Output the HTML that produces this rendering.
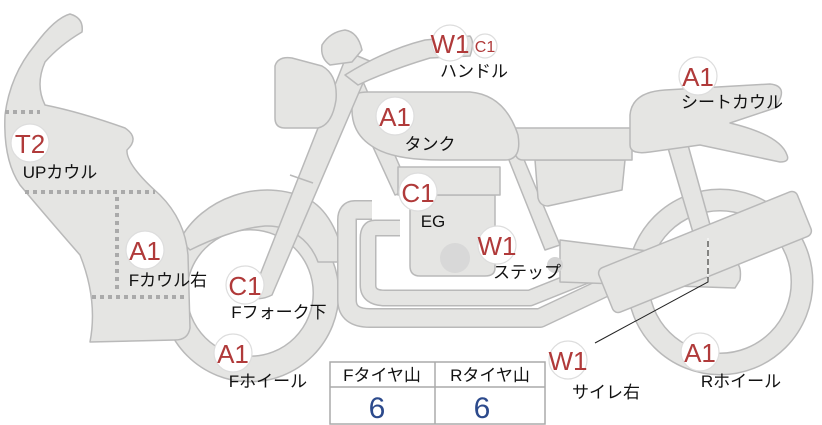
<!DOCTYPE html>
<html><head><meta charset="utf-8"><style>
html,body{margin:0;padding:0;background:#fff;}
svg{display:block;font-family:"Liberation Sans","Noto Sans CJK JP",sans-serif;}
.p{fill:#e5e5e3;stroke:#b9b9b9;stroke-width:1.5;stroke-linejoin:round;}
.b{fill:#fff;stroke:#ddd;stroke-width:1.2;}
.bt{fill:#b03a3a;font-size:26px;text-anchor:middle;}
.l{fill:#111;font-size:17px;text-anchor:middle;}
</style></head><body>
<svg width="822" height="425" viewBox="0 0 822 425">
<circle cx="250" cy="293" r="76" fill="none" stroke="#b9b9b9" stroke-width="27"/>
<circle cx="250" cy="293" r="76" fill="none" stroke="#e5e5e3" stroke-width="24"/>
<path class="p" d="M180,240 C200,200 260,175 310,200 C330,212 342,240 343,262 L318,262 C310,240 290,225 265,226 C240,228 210,240 190,250 Z"/>
<circle cx="720" cy="282" r="82" fill="none" stroke="#b9b9b9" stroke-width="23"/>
<circle cx="720" cy="282" r="82" fill="none" stroke="#e5e5e3" stroke-width="20"/>
<path d="M372,210 L355,210 Q347,210 347,220 L347,300 Q347,318 370,318 L540,318 L610,285" fill="none" stroke="#b9b9b9" stroke-width="20" stroke-linejoin="round"/>
<path d="M372,210 L355,210 Q347,210 347,220 L347,300 Q347,318 370,318 L540,318 L610,285" fill="none" stroke="#e5e5e3" stroke-width="17" stroke-linejoin="round"/>
<path d="M400,228 L375,228 Q368,228 368,238 L368,285 Q368,298 385,298 L530,298 L600,270" fill="none" stroke="#b9b9b9" stroke-width="17" stroke-linejoin="round"/>
<path d="M400,228 L375,228 Q368,228 368,238 L368,285 Q368,298 385,298 L530,298 L600,270" fill="none" stroke="#e5e5e3" stroke-width="14" stroke-linejoin="round"/>
<path class="p" d="M340,75 L358,70 L410,190 L395,195 Z"/>
<path class="p" d="M505,150 L520,150 L560,245 L545,250 Z"/>
<path class="p" d="M560,240 L735,262 Q742,265 740,280 L735,288 L560,282 Z"/>
<path class="p" d="M410,195 L495,195 L495,268 Q495,276 485,276 L420,276 Q410,276 410,266 Z"/>
<path class="p" d="M398,167 L500,167 L500,195 L398,195 Z"/>
<circle cx="455" cy="258" r="15" fill="#d8d8d8"/>
<circle cx="555" cy="265" r="8" fill="#d4d4d4"/>
<path class="p" d="M535,160 L625,160 L622,190 L548,206 Q540,206 538,198 Z"/>
<path class="p" d="M668,148 L688,145 L712,232 L694,236 Z"/>
<path class="p" d="M515,128 L632,128 L632,160 L523,160 Q515,160 515,150 Z"/>
<path class="p" d="M630,115 Q632,92 665,90 L770,84 Q790,86 775,108 L730,123 Q780,135 787,155 Q790,162 780,162 L700,145 L650,152 Q630,155 630,145 Z"/>
<path class="p" d="M352,98 Q355,92 368,92 L470,92 Q505,95 518,135 Q522,160 505,160 L440,160 Q395,160 375,148 Q352,135 352,110 Z"/>
<g transform="translate(705,252) rotate(-22)">
<rect class="p" x="-107" y="-24" width="214" height="48" rx="6"/>
</g>
<path class="p" d="M242,288 Q250,265 258,280 L348,52 L372,62 L272,295 Q262,300 255,298 Z"/>
<path class="p" d="M290,175 L313,183" fill="none"/>
<path class="p" d="M275,66 Q278,56 292,58 L322,66 Q338,75 336,100 Q332,125 318,128 L285,128 Q275,128 275,118 Z"/>
<path class="p" d="M322,45 Q330,32 345,30 Q358,32 362,50 L352,62 L330,65 Q320,58 322,45 Z"/>
<path class="p" d="M345,75 Q385,50 425,40 L470,36 Q475,42 470,56 L430,58 Q390,70 358,85 Z"/>
<path class="p" d="M70,14 Q84,18 82,32 Q60,45 45,62 Q35,85 45,105 Q80,112 125,128 Q140,138 127,150 Q126,165 160,195 Q185,220 188,255 L190,328 Q188,340 175,340 L90,342 Q98,300 80,255 Q45,215 20,185 Q3,160 5,115 Q10,75 35,45 Q55,18 70,14 Z"/>
<g stroke="#aaa" stroke-width="4" stroke-dasharray="4,4" fill="none">
<path d="M5,112 L40,112"/>
<path d="M25,192 L155,192"/>
<path d="M117,197 L117,293"/>
<path d="M92,297 L188,297"/>
</g>
<path d="M708,238 L708,282 L595,343" fill="none" stroke="#222" stroke-width="1"/>
<path d="M708,238 L708,282" fill="none" stroke="#fff" stroke-width="1" stroke-dasharray="3,6"/>
<g>
<circle class="b" cx="450" cy="43" r="18"/><text class="bt" x="450" y="53">W1</text>
<circle class="b" cx="485" cy="46" r="12"/><text class="bt" x="485" y="52" style="font-size:16px">C1</text>
<circle class="b" cx="395" cy="116" r="19"/><text class="bt" x="395" y="126">A1</text>
<circle class="b" cx="418" cy="192" r="19"/><text class="bt" x="418" y="202">C1</text>
<circle class="b" cx="497" cy="245" r="19"/><text class="bt" x="497" y="255">W1</text>
<circle class="b" cx="698" cy="76" r="19"/><text class="bt" x="698" y="86">A1</text>
<circle class="b" cx="30" cy="143" r="19"/><text class="bt" x="30" y="153">T2</text>
<circle class="b" cx="145" cy="250" r="19"/><text class="bt" x="145" y="260">A1</text>
<circle class="b" cx="245" cy="285" r="19"/><text class="bt" x="245" y="295">C1</text>
<circle class="b" cx="233" cy="353" r="19"/><text class="bt" x="233" y="363">A1</text>
<circle class="b" cx="568" cy="360" r="19"/><text class="bt" x="568" y="370">W1</text>
<circle class="b" cx="700" cy="352" r="19"/><text class="bt" x="700" y="362">A1</text>
</g>
<g>
<text class="l" x="474" y="77">ハンドル</text>
<text class="l" x="430" y="150">タンク</text>
<text class="l" x="433" y="227">EG</text>
<text class="l" x="527" y="278">ステップ</text>
<text class="l" x="732" y="108">シートカウル</text>
<text class="l" x="60" y="178">UPカウル</text>
<text class="l" x="168" y="286">Fカウル右</text>
<text class="l" x="279" y="318">Fフォーク下</text>
<text class="l" x="268" y="387">Fホイール</text>
<text class="l" x="606" y="398">サイレ右</text>
<text class="l" x="741" y="387">Rホイール</text>
</g>
<rect x="330" y="362" width="215" height="62" fill="#fff" stroke="#aaa" stroke-width="1.5"/>
<line x1="330" y1="387" x2="545" y2="387" stroke="#aaa" stroke-width="1.5"/>
<line x1="435" y1="362" x2="435" y2="424" stroke="#aaa" stroke-width="1.5"/>
<text class="l" x="382" y="381">Fタイヤ山</text>
<text class="l" x="490" y="381">Rタイヤ山</text>
<text x="377" y="418" style="fill:#2c4a8c;font-size:30px;text-anchor:middle">6</text>
<text x="482" y="418" style="fill:#2c4a8c;font-size:30px;text-anchor:middle">6</text>
</svg>
</body></html>
